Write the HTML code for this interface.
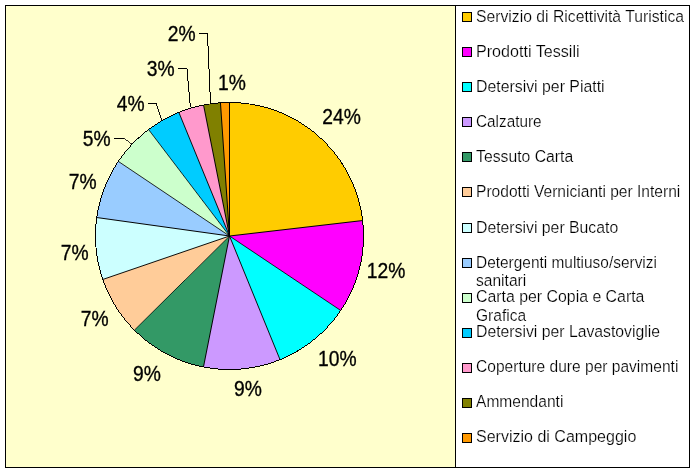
<!DOCTYPE html>
<html lang="it">
<head>
<meta charset="utf-8">
<title>Grafico</title>
<style>
html,body{margin:0;padding:0;background:#fff;}
body{width:696px;height:473px;overflow:hidden;}
svg{display:block;}
.lg{font-family:"Liberation Sans",Arial,sans-serif;font-size:16px;fill:#000;stroke:#fff;stroke-width:0.2px;}
.dl{font-family:"Liberation Sans",Arial,sans-serif;font-size:20px;fill:#000;stroke:#000;stroke-width:0.3px;}
</style>
</head>
<body>
<svg width="696" height="473" viewBox="0 0 696 473">
<rect x="0" y="0" width="696" height="473" fill="#ffffff"/>
<rect x="5.5" y="5.5" width="684" height="462" fill="#FFFFCC" stroke="#000" stroke-width="1" shape-rendering="crispEdges"/>
<rect x="455.5" y="5.5" width="234" height="462" fill="#ffffff" stroke="#000" stroke-width="1" shape-rendering="crispEdges"/>

<g stroke="none" shape-rendering="crispEdges">
<path d="M229.5 236.0 L229.50 102.50 A134.0 133.5 0 0 1 362.60 220.54 Z" fill="#FFCC00"/>
<path d="M229.5 236.0 L362.60 220.54 A134.0 133.5 0 0 1 340.72 310.46 Z" fill="#FF00FF"/>
<path d="M229.5 236.0 L340.72 310.46 A134.0 133.5 0 0 1 280.02 359.65 Z" fill="#00FFFF"/>
<path d="M229.5 236.0 L280.02 359.65 A134.0 133.5 0 0 1 203.47 366.96 Z" fill="#CC99FF"/>
<path d="M229.5 236.0 L203.47 366.96 A134.0 133.5 0 0 1 134.42 330.07 Z" fill="#339966"/>
<path d="M229.5 236.0 L134.42 330.07 A134.0 133.5 0 0 1 102.80 279.46 Z" fill="#FFCC99"/>
<path d="M229.5 236.0 L102.80 279.46 A134.0 133.5 0 0 1 96.79 217.54 Z" fill="#CCFFFF"/>
<path d="M229.5 236.0 L96.79 217.54 A134.0 133.5 0 0 1 118.37 161.41 Z" fill="#99CCFF"/>
<path d="M229.5 236.0 L118.37 161.41 A134.0 133.5 0 0 1 148.58 129.59 Z" fill="#CCFFCC"/>
<path d="M229.5 236.0 L148.58 129.59 A134.0 133.5 0 0 1 178.87 112.40 Z" fill="#00CCFF"/>
<path d="M229.5 236.0 L178.87 112.40 A134.0 133.5 0 0 1 203.54 105.03 Z" fill="#FF99CC"/>
<path d="M229.5 236.0 L203.54 105.03 A134.0 133.5 0 0 1 220.46 102.80 Z" fill="#808000"/>
<path d="M229.5 236.0 L220.46 102.80 A134.0 133.5 0 0 1 229.50 102.50 Z" fill="#FF9900"/>
</g>
<g fill="none" stroke="#000" stroke-width="1" stroke-linejoin="round" shape-rendering="crispEdges">
<line x1="229.5" y1="236.0" x2="229.50" y2="102.50" stroke-width="1.000"/>
<line x1="229.5" y1="236.0" x2="362.60" y2="220.54" stroke-width="0.993"/>
<line x1="229.5" y1="236.0" x2="340.72" y2="310.46" stroke-width="0.830"/>
<line x1="229.5" y1="236.0" x2="280.02" y2="359.65" stroke-width="0.926"/>
<line x1="229.5" y1="236.0" x2="203.47" y2="366.96" stroke-width="0.981"/>
<line x1="229.5" y1="236.0" x2="134.42" y2="330.07" stroke-width="0.710"/>
<line x1="229.5" y1="236.0" x2="102.80" y2="279.46" stroke-width="0.946"/>
<line x1="229.5" y1="236.0" x2="96.79" y2="217.54" stroke-width="0.990"/>
<line x1="229.5" y1="236.0" x2="118.37" y2="161.41" stroke-width="0.829"/>
<line x1="229.5" y1="236.0" x2="148.58" y2="129.59" stroke-width="0.797"/>
<line x1="229.5" y1="236.0" x2="178.87" y2="112.40" stroke-width="0.926"/>
<line x1="229.5" y1="236.0" x2="203.54" y2="105.03" stroke-width="0.981"/>
<line x1="229.5" y1="236.0" x2="220.46" y2="102.80" stroke-width="0.998"/>
<path d="M229.50 102.00 L233.02 102.05 L236.54 102.18 L240.05 102.41 L243.56 102.74 L247.06 103.15 L250.54 103.66 L254.01 104.25 L257.46 104.94 L260.90 105.72 L264.31 106.58 L267.69 107.54 L271.06 108.58 L274.39 109.71 L277.69 110.93 L280.96 112.24 L284.19 113.62 L287.38 115.10 L290.54 116.65 L293.65 118.29 L296.72 120.01 L299.74 121.81 L302.71 123.69 L305.63 125.64 L308.50 127.67 L311.32 129.77 L314.07 131.95 L316.77 134.20 L319.41 136.51 L321.99 138.90 L324.50 141.35 L326.96 143.86 L329.36 146.42 L331.68 149.05 L333.94 151.74 L336.12 154.49 L338.24 157.29 L340.27 160.15 L342.23 163.06 L344.12 166.02 L345.92 169.03 L347.65 172.09 L349.29 175.19 L350.85 178.33 L352.33 181.51 L353.73 184.73 L355.04 187.99 L356.26 191.28 L357.39 194.60 L358.44 197.95 L359.40 201.32 L360.27 204.72 L361.05 208.14 L361.74 211.58 L362.34 215.04 L362.85 218.51 L363.26 221.99 L363.58 225.49 L363.81 228.99 L363.95 232.49 L364.00 236.00 L363.95 239.51 L363.81 243.01 L363.58 246.51 L363.26 250.01 L362.85 253.49 L362.34 256.96 L361.74 260.42 L361.05 263.86 L360.27 267.28 L359.40 270.68 L358.44 274.05 L357.39 277.40 L356.26 280.72 L355.04 284.01 L353.73 287.27 L352.33 290.49 L350.85 293.67 L349.29 296.81 L347.65 299.91 L345.92 302.97 L344.12 305.98 L342.23 308.94 L340.27 311.85 L338.24 314.71 L336.12 317.51 L333.94 320.26 L331.68 322.95 L329.36 325.58 L326.96 328.14 L324.50 330.65 L321.99 333.10 L319.41 335.49 L316.77 337.80 L314.07 340.05 L311.32 342.23 L308.50 344.33 L305.63 346.36 L302.71 348.31 L299.74 350.19 L296.72 351.99 L293.65 353.71 L290.54 355.35 L287.38 356.90 L284.19 358.38 L280.96 359.76 L277.69 361.07 L274.39 362.29 L271.06 363.42 L267.69 364.46 L264.31 365.42 L260.90 366.28 L257.46 367.06 L254.01 367.75 L250.54 368.34 L247.06 368.85 L243.56 369.26 L240.05 369.59 L236.54 369.82 L233.02 369.95 L229.50 370.00 L225.98 369.95 L222.46 369.82 L218.95 369.59 L215.44 369.26 L211.94 368.85 L208.46 368.34 L204.99 367.75 L201.54 367.06 L198.10 366.28 L194.69 365.42 L191.31 364.46 L187.94 363.42 L184.61 362.29 L181.31 361.07 L178.04 359.76 L174.81 358.38 L171.62 356.90 L168.46 355.35 L165.35 353.71 L162.28 351.99 L159.26 350.19 L156.29 348.31 L153.37 346.36 L150.50 344.33 L147.68 342.23 L144.93 340.05 L142.23 337.80 L139.59 335.49 L137.01 333.10 L134.50 330.65 L132.04 328.14 L129.64 325.58 L127.32 322.95 L125.06 320.26 L122.88 317.51 L120.76 314.71 L118.73 311.85 L116.77 308.94 L114.88 305.98 L113.08 302.97 L111.35 299.91 L109.71 296.81 L108.15 293.67 L106.67 290.49 L105.27 287.27 L103.96 284.01 L102.74 280.72 L101.61 277.40 L100.56 274.05 L99.60 270.68 L98.73 267.28 L97.95 263.86 L97.26 260.42 L96.66 256.96 L96.15 253.49 L95.74 250.01 L95.42 246.51 L95.19 243.01 L95.05 239.51 L95.00 236.00 L95.05 232.49 L95.19 228.99 L95.42 225.49 L95.74 221.99 L96.15 218.51 L96.66 215.04 L97.26 211.58 L97.95 208.14 L98.73 204.72 L99.60 201.32 L100.56 197.95 L101.61 194.60 L102.74 191.28 L103.96 187.99 L105.27 184.73 L106.67 181.51 L108.15 178.33 L109.71 175.19 L111.35 172.09 L113.08 169.03 L114.88 166.02 L116.77 163.06 L118.73 160.15 L120.76 157.29 L122.88 154.49 L125.06 151.74 L127.32 149.05 L129.64 146.42 L132.04 143.86 L134.50 141.35 L137.01 138.90 L139.59 136.51 L142.23 134.20 L144.93 131.95 L147.68 129.77 L150.50 127.67 L153.37 125.64 L156.29 123.69 L159.26 121.81 L162.28 120.01 L165.35 118.29 L168.46 116.65 L171.62 115.10 L174.81 113.62 L178.04 112.24 L181.31 110.93 L184.61 109.71 L187.94 108.58 L191.31 107.54 L194.69 106.58 L198.10 105.72 L201.54 104.94 L204.99 104.25 L208.46 103.66 L211.94 103.15 L215.44 102.74 L218.95 102.41 L222.46 102.18 L225.98 102.05 Z M229.50 103.00 L232.99 103.05 L236.49 103.18 L239.97 103.41 L243.45 103.73 L246.93 104.13 L250.38 104.63 L253.83 105.22 L257.26 105.90 L260.67 106.66 L264.06 107.52 L267.42 108.46 L270.76 109.49 L274.07 110.60 L277.35 111.80 L280.60 113.09 L283.82 114.46 L286.99 115.91 L290.13 117.45 L293.23 119.06 L296.28 120.76 L299.29 122.54 L302.25 124.39 L305.17 126.32 L308.03 128.32 L310.83 130.40 L313.58 132.55 L316.28 134.77 L318.91 137.07 L321.49 139.43 L324.00 141.85 L326.44 144.35 L328.81 146.92 L331.11 149.55 L333.34 152.23 L335.49 154.97 L337.58 157.77 L339.59 160.62 L341.53 163.52 L343.39 166.47 L345.17 169.47 L346.88 172.51 L348.50 175.59 L350.04 178.72 L351.50 181.89 L352.87 185.09 L354.16 188.33 L355.37 191.59 L356.49 194.89 L357.52 198.22 L358.47 201.57 L359.32 204.95 L360.09 208.35 L360.77 211.76 L361.36 215.19 L361.86 218.64 L362.27 222.10 L362.59 225.56 L362.82 229.04 L362.95 232.52 L363.00 236.00 L362.95 239.48 L362.82 242.96 L362.59 246.44 L362.27 249.90 L361.86 253.36 L361.36 256.81 L360.77 260.24 L360.09 263.65 L359.32 267.05 L358.47 270.43 L357.52 273.78 L356.49 277.11 L355.37 280.41 L354.16 283.67 L352.87 286.91 L351.50 290.11 L350.04 293.28 L348.50 296.41 L346.88 299.49 L345.17 302.53 L343.39 305.53 L341.53 308.48 L339.59 311.38 L337.58 314.23 L335.49 317.03 L333.34 319.77 L331.11 322.45 L328.81 325.08 L326.44 327.65 L324.00 330.15 L321.49 332.57 L318.91 334.93 L316.28 337.23 L313.58 339.45 L310.83 341.60 L308.03 343.68 L305.17 345.68 L302.25 347.61 L299.29 349.46 L296.28 351.24 L293.23 352.94 L290.13 354.55 L286.99 356.09 L283.82 357.54 L280.60 358.91 L277.35 360.20 L274.07 361.40 L270.76 362.51 L267.42 363.54 L264.06 364.48 L260.67 365.34 L257.26 366.10 L253.83 366.78 L250.38 367.37 L246.93 367.87 L243.45 368.27 L239.97 368.59 L236.49 368.82 L232.99 368.95 L229.50 369.00 L226.01 368.95 L222.51 368.82 L219.03 368.59 L215.55 368.27 L212.07 367.87 L208.62 367.37 L205.17 366.78 L201.74 366.10 L198.33 365.34 L194.94 364.48 L191.58 363.54 L188.24 362.51 L184.93 361.40 L181.65 360.20 L178.40 358.91 L175.18 357.54 L172.01 356.09 L168.87 354.55 L165.77 352.94 L162.72 351.24 L159.71 349.46 L156.75 347.61 L153.83 345.68 L150.97 343.68 L148.17 341.60 L145.42 339.45 L142.72 337.23 L140.09 334.93 L137.51 332.57 L135.00 330.15 L132.56 327.65 L130.19 325.08 L127.89 322.45 L125.66 319.77 L123.51 317.03 L121.42 314.23 L119.41 311.38 L117.47 308.48 L115.61 305.53 L113.83 302.53 L112.12 299.49 L110.50 296.41 L108.96 293.28 L107.50 290.11 L106.13 286.91 L104.84 283.67 L103.63 280.41 L102.51 277.11 L101.48 273.78 L100.53 270.43 L99.68 267.05 L98.91 263.65 L98.23 260.24 L97.64 256.81 L97.14 253.36 L96.73 249.90 L96.41 246.44 L96.18 242.96 L96.05 239.48 L96.00 236.00 L96.05 232.52 L96.18 229.04 L96.41 225.56 L96.73 222.10 L97.14 218.64 L97.64 215.19 L98.23 211.76 L98.91 208.35 L99.68 204.95 L100.53 201.57 L101.48 198.22 L102.51 194.89 L103.63 191.59 L104.84 188.33 L106.13 185.09 L107.50 181.89 L108.96 178.72 L110.50 175.59 L112.12 172.51 L113.83 169.47 L115.61 166.47 L117.47 163.52 L119.41 160.62 L121.42 157.77 L123.51 154.97 L125.66 152.23 L127.89 149.55 L130.19 146.92 L132.56 144.35 L135.00 141.85 L137.51 139.43 L140.09 137.07 L142.72 134.77 L145.42 132.55 L148.17 130.40 L150.97 128.32 L153.83 126.32 L156.75 124.39 L159.71 122.54 L162.72 120.76 L165.77 119.06 L168.87 117.45 L172.01 115.91 L175.18 114.46 L178.40 113.09 L181.65 111.80 L184.93 110.60 L188.24 109.49 L191.58 108.46 L194.94 107.52 L198.33 106.66 L201.74 105.90 L205.17 105.22 L208.62 104.63 L212.07 104.13 L215.55 103.73 L219.03 103.41 L222.51 103.18 L226.01 103.05 Z" fill="#000" fill-rule="evenodd" stroke="none"/>
</g>
<g fill="none" stroke="#000" stroke-width="1" shape-rendering="crispEdges">
<line x1="114" y1="138.5" x2="123.5" y2="138.5" stroke-width="1.000"/>
<line x1="123.5" y1="138.5" x2="131.5" y2="144.5" stroke-width="0.800"/>
<line x1="148" y1="103.5" x2="156.5" y2="103.5" stroke-width="1.000"/>
<line x1="156.5" y1="103.5" x2="162" y2="119.5" stroke-width="0.946"/>
<line x1="178" y1="68.5" x2="187" y2="68.5" stroke-width="1.000"/>
<line x1="187" y1="68.5" x2="190.5" y2="107" stroke-width="0.996"/>
<line x1="199" y1="33.5" x2="207.5" y2="33.5" stroke-width="1.000"/>
<line x1="207.5" y1="33.5" x2="210.5" y2="103" stroke-width="0.999"/>
</g>
<text class="dl" transform="translate(322.3 124) scale(0.965 1.075)" x="0" y="0">24%</text>
<text class="dl" transform="translate(366.8 278) scale(0.965 1.075)" x="0" y="0">12%</text>
<text class="dl" transform="translate(318 366) scale(0.965 1.075)" x="0" y="0">10%</text>
<text class="dl" transform="translate(234 396) scale(0.965 1.075)" x="0" y="0">9%</text>
<text class="dl" transform="translate(133 381) scale(0.965 1.075)" x="0" y="0">9%</text>
<text class="dl" transform="translate(80.8 326) scale(0.965 1.075)" x="0" y="0">7%</text>
<text class="dl" transform="translate(60.8 260) scale(0.965 1.075)" x="0" y="0">7%</text>
<text class="dl" transform="translate(68.8 189) scale(0.965 1.075)" x="0" y="0">7%</text>
<text class="dl" transform="translate(82.8 146) scale(0.965 1.075)" x="0" y="0">5%</text>
<text class="dl" transform="translate(116.8 111) scale(0.965 1.075)" x="0" y="0">4%</text>
<text class="dl" transform="translate(146.8 76) scale(0.965 1.075)" x="0" y="0">3%</text>
<text class="dl" transform="translate(167.8 41) scale(0.965 1.075)" x="0" y="0">2%</text>
<text class="dl" transform="translate(218 90) scale(0.965 1.075)" x="0" y="0">1%</text>
<rect x="462.5" y="12.5" width="9" height="9" fill="#FFCC00" stroke="#000" stroke-width="1" shape-rendering="crispEdges"/>
<text class="lg" transform="translate(476 22) scale(0.9839 1.08)" x="0" y="0">Servizio di Ricettività Turistica</text>
<rect x="462.5" y="47.5" width="9" height="9" fill="#FF00FF" stroke="#000" stroke-width="1" shape-rendering="crispEdges"/>
<text class="lg" transform="translate(476 57) scale(1.0079 1.08)" x="0" y="0">Prodotti Tessili</text>
<rect x="462.5" y="82.5" width="9" height="9" fill="#00FFFF" stroke="#000" stroke-width="1" shape-rendering="crispEdges"/>
<text class="lg" transform="translate(476 92) scale(0.9907 1.08)" x="0" y="0">Detersivi per Piatti</text>
<rect x="462.5" y="117.5" width="9" height="9" fill="#CC99FF" stroke="#000" stroke-width="1" shape-rendering="crispEdges"/>
<text class="lg" transform="translate(476 127) scale(0.9587 1.08)" x="0" y="0">Calzature</text>
<rect x="462.5" y="152.5" width="9" height="9" fill="#339966" stroke="#000" stroke-width="1" shape-rendering="crispEdges"/>
<text class="lg" transform="translate(476 162) scale(0.9858 1.08)" x="0" y="0">Tessuto Carta</text>
<rect x="462.5" y="187.5" width="9" height="9" fill="#FFCC99" stroke="#000" stroke-width="1" shape-rendering="crispEdges"/>
<text class="lg" transform="translate(476 197) scale(0.9746 1.08)" x="0" y="0">Prodotti Vernicianti per Interni</text>
<rect x="462.5" y="223.5" width="9" height="9" fill="#CCFFFF" stroke="#000" stroke-width="1" shape-rendering="crispEdges"/>
<text class="lg" transform="translate(476 233) scale(0.9881 1.08)" x="0" y="0">Detersivi per Bucato</text>
<rect x="462.5" y="258.5" width="9" height="9" fill="#99CCFF" stroke="#000" stroke-width="1" shape-rendering="crispEdges"/>
<text class="lg" transform="translate(476 268) scale(0.9647 1.08)" x="0" y="0">Detergenti multiuso/servizi</text>
<text class="lg" transform="translate(476 286) scale(0.9744 1.08)" x="0" y="0">sanitari</text>
<rect x="462.5" y="293.5" width="9" height="9" fill="#CCFFCC" stroke="#000" stroke-width="1" shape-rendering="crispEdges"/>
<text class="lg" transform="translate(476 302) scale(0.9923 1.08)" x="0" y="0">Carta per Copia e Carta</text>
<text class="lg" transform="translate(476 321) scale(0.9749 1.08)" x="0" y="0">Grafica</text>
<rect x="462.5" y="328.5" width="9" height="9" fill="#00CCFF" stroke="#000" stroke-width="1" shape-rendering="crispEdges"/>
<text class="lg" transform="translate(476 337) scale(0.9865 1.08)" x="0" y="0">Detersivi per Lavastoviglie</text>
<rect x="462.5" y="363.5" width="9" height="9" fill="#FF99CC" stroke="#000" stroke-width="1" shape-rendering="crispEdges"/>
<text class="lg" transform="translate(476 372) scale(0.9729 1.08)" x="0" y="0">Coperture dure per pavimenti</text>
<rect x="462.5" y="398.5" width="9" height="9" fill="#808000" stroke="#000" stroke-width="1" shape-rendering="crispEdges"/>
<text class="lg" transform="translate(476 407) scale(0.973 1.08)" x="0" y="0">Ammendanti</text>
<rect x="462.5" y="433.5" width="9" height="9" fill="#FF9900" stroke="#000" stroke-width="1" shape-rendering="crispEdges"/>
<text class="lg" transform="translate(476 442) scale(1.0025 1.08)" x="0" y="0">Servizio di Campeggio</text>
</svg>
</body>
</html>
